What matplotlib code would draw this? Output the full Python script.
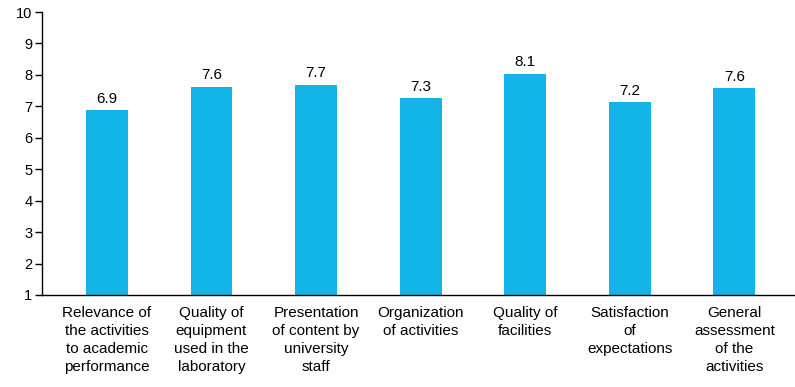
import matplotlib.pyplot as plt

# données
categories = [
    "Relevance of\nthe activities\nto academic\nperformance",
    "Quality of\nequipment\nused in the\nlaboratory",
    "Presentation\nof content by\nuniversity\nstaff",
    "Organization\nof activities",
    "Quality of\nfacilities",
    "Satisfaction\nof\nexpectations",
    "General\nassessment\nof the\nactivities",
]
values = [6.87, 7.62, 7.68, 7.25, 8.03, 7.13, 7.57]
value_labels = ["6.9", "7.6", "7.7", "7.3", "8.1", "7.2", "7.6"]
yticks = list(range(1, 11))

plt.rcParams["font.family"] = ["Liberation Sans", "DejaVu Sans"]

fig = plt.figure(figsize=(7.95, 3.87), dpi=100)
ax = fig.add_axes([42 / 795, 1 - 295 / 387, 753 / 795, 283 / 387])

x = range(len(categories))
bars = ax.bar(x, [v - 1 for v in values], bottom=1, width=0.4, color="#13B5E6")

for b, lab in zip(bars, value_labels):
    ax.text(b.get_x() + b.get_width() / 2, b.get_y() + b.get_height() + 0.15, lab,
            ha="center", va="bottom", fontsize=11)

ax.set_ylim(1, 10)
ax.set_xlim(-0.62, 6.58)
ax.set_yticks(yticks)
ax.set_xticks(list(x))
ax.set_xticklabels(categories, fontsize=11, linespacing=1.35)
ax.tick_params(axis="y", length=5, width=1, labelsize=10.5, pad=2)
ax.tick_params(axis="x", length=0, pad=8)
for s in ["top", "right"]:
    ax.spines[s].set_visible(False)
for s in ["left", "bottom"]:
    ax.spines[s].set_linewidth(1)

fig.savefig("out.png", dpi=100)
